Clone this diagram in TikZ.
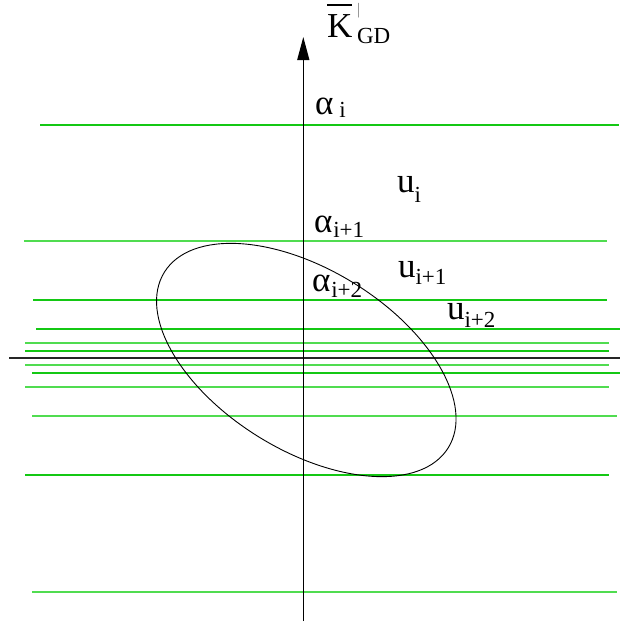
\documentclass[tikz,border=0pt]{standalone}
\usepackage{fontspec}
\setmainfont{Liberation Serif}
\usetikzlibrary{arrows.meta}
\definecolor{gdark}{RGB}{20,200,20}
\definecolor{glight}{RGB}{80,220,80}
\newcommand{\bigf}{\fontsize{35}{35}\selectfont}
\newcommand{\subf}{\fontsize{23}{23}\selectfont}
\tikzset{
  gl/.style={draw=gdark, line width=1.2pt},
  gll/.style={draw=glight, line width=1.4pt},
  lbl/.style={anchor=base west, inner sep=0pt, outer sep=0pt},
}
\begin{document}
\begin{tikzpicture}[x=1pt,y=-1pt]
\useasboundingbox (0,0) rectangle (619,624);
% green lines
\draw[gl]  (40,125) -- (619,125);
\draw[gll] (24,241) -- (607,241);
\draw[gl]  (33,300) -- (607,300);
\draw[gl]  (36,329) -- (620,329);
\draw[gll] (25,343) -- (609,343);
\draw[gl]  (25,351) -- (609,351);
\draw[gll] (25,365) -- (609,365);
\draw[gl]  (32,373) -- (622,373);
\draw[gll] (25,387) -- (609,387);
\draw[gll] (32,416) -- (617,416);
\draw[gl]  (25,475) -- (609,475);
\draw[gll] (32,592) -- (617,592);
% black horizontal axis
\coordinate (hl) at (9,358);
\coordinate (hr) at (622,358);
\draw[line width=1.2pt, black!85] (hl) -- (hr);
% vertical axis
\coordinate (bot) at (303.3,621);
\coordinate (top) at (303.3,37);
\draw[line width=1.3pt, -{Triangle[length=23pt,width=12pt]}] (bot) -- (top);
% ellipse
\coordinate (c) at (306.3,360);
\draw[line width=0.9pt, rotate around={-31.7:(c)}] (c) ellipse [x radius=166.9pt, y radius=90.4pt];
% labels
\node[lbl] (K) at (327,37) {\bigf\makebox[0pt][l]{\raisebox{31.5pt}{\rule{25pt}{1.4pt}}}K};
\node[lbl, text=gray] (tick) at (357,14.5) {\fontsize{16}{16}\selectfont |};
\node[lbl] (gd) at (357,43) {\subf GD};
\node[lbl] (ai) at (315,114) {\bigf α\hspace{6pt}\raisebox{-3pt}{\subf i}};
\node[lbl] (ai1) at (314,232) {\bigf α\hspace{1pt}\raisebox{-5pt}{\subf i+1}};
\node[lbl] (ai2) at (312,291) {\bigf α\hspace{1pt}\raisebox{-6pt}{\subf i+2}};
\node[lbl] (ui) at (397,192) {\bigf u\raisebox{-10pt}{\subf i}};
\node[lbl] (ui1) at (398,277) {\bigf u\raisebox{-7pt}{\subf i+1}};
\node[lbl] (ui2) at (447,319) {\bigf u\raisebox{-8pt}{\subf i+2}};
\end{tikzpicture}
\end{document}
